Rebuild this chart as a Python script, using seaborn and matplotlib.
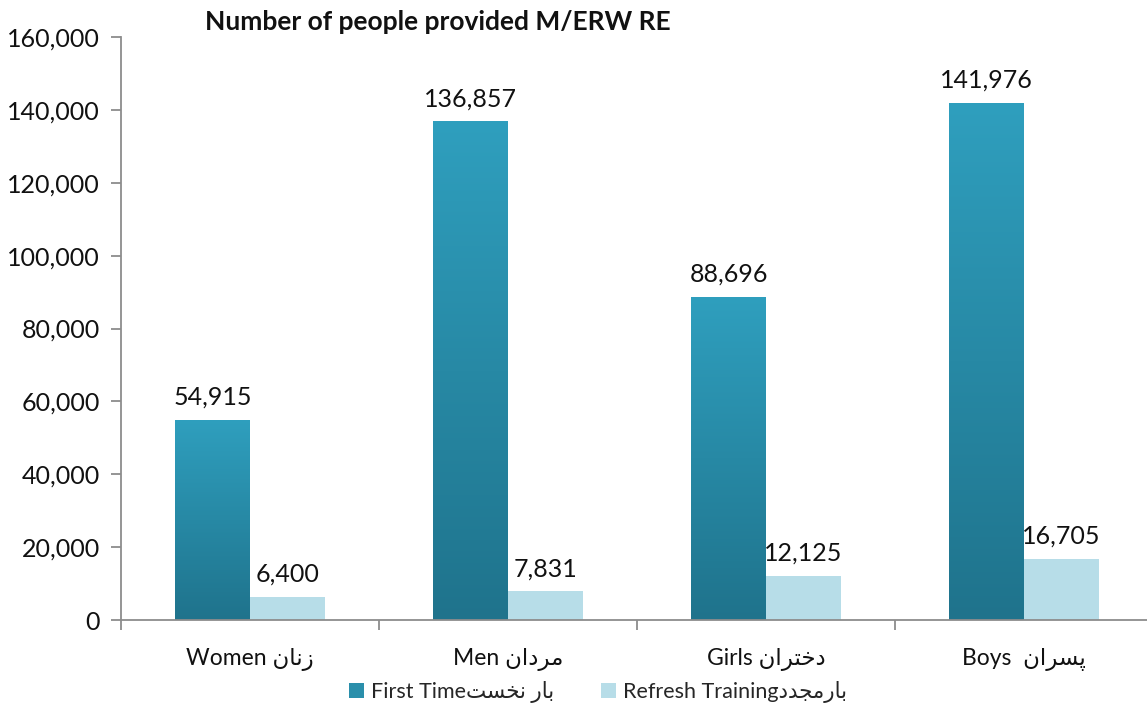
import numpy as np
import pandas as pd
import matplotlib
matplotlib.use("Agg")
import matplotlib.pyplot as plt
import seaborn as sns
from matplotlib.patches import Patch
from matplotlib.colors import LinearSegmentedColormap

# ---- data ----
categories = ["Women \ufee5\ufe8e\ufee7\ufeaf",
              "Men \ufee5\ufe8d\ufea9\ufeae\ufee3",
              "Girls \ufee5\ufe8d\ufeae\ufe98\ufea7\ufea9",
              "Boys  \ufee5\ufe8d\ufeae\ufeb4\ufb58"]
series_names = ["First Time\ufe96\ufeb4\ufea8\ufee7 \ufead\ufe8e\ufe91",
                "Refresh Training\ufea9\ufeaa\ufea0\ufee3\ufead\ufe8e\ufe91"]
first_time = [54915, 136857, 88696, 141976]
refresh = [6400, 7831, 12125, 16705]
yticks = [0, 20000, 40000, 60000, 80000, 100000, 120000, 140000, 160000]
title = "Number of people provided M/ERW RE"

df = pd.DataFrame({
    "category": categories * 2,
    "series": [series_names[0]] * 4 + [series_names[1]] * 4,
    "value": first_time + refresh,
})

sns.set_theme(style="white")
plt.rcParams["font.family"] = ["Lato", "DejaVu Sans"]

W, H = 1147, 706
fig = plt.figure(figsize=(W / 100, H / 100), dpi=100)
ax = fig.add_axes([121 / W, (H - 620) / H, 1032 / W, 583 / H])

dark_top = "#2f9fbe"
dark_bot = "#1f738c"
light = "#b7dde8"

sns.barplot(data=df, x="category", y="value", hue="series",
            palette=["#2a8fab", light], width=0.58, gap=0,
            legend=False, ax=ax, linewidth=0, saturation=1)

ax.set_xlim(-0.5, 3.5)
ax.set_ylim(0, 160000)

# gradient fill for first series
cmap = LinearSegmentedColormap.from_list("g", [dark_bot, dark_top])
grad = np.linspace(0, 1, 256).reshape(-1, 1)
for p in ax.containers[0]:
    x, y = p.get_x(), p.get_y()
    w, h = p.get_width(), p.get_height()
    im = ax.imshow(grad, extent=[x, x + w, y, y + h], origin="lower",
                   aspect="auto", cmap=cmap, zorder=p.get_zorder() + 0.1)
    im.set_clip_path(p)
ax.set_xlim(-0.5, 3.5)
ax.set_ylim(0, 160000)

# value labels
for cont in ax.containers:
    ax.bar_label(cont, labels=[f"{v:,.0f}" for v in cont.datavalues],
                 padding=8, fontsize=18, color="#111111")

# axes styling
for s in ["top", "right"]:
    ax.spines[s].set_visible(False)
for s in ["left", "bottom"]:
    ax.spines[s].set_color("#8c8c8c")
    ax.spines[s].set_linewidth(1.3)

ax.set_yticks(yticks)
ax.set_yticklabels([f"{v:,}" for v in yticks], fontsize=18, color="#111111")
ax.tick_params(axis="y", length=7, width=1.3, color="#8c8c8c", pad=8, left=True)
ax.set_xticks(range(len(categories)))
ax.set_xticklabels(categories, fontsize=16.5, color="#111111")
ax.tick_params(axis="x", length=0, pad=20)
ax.set_xticks([-0.5, 0.5, 1.5, 2.5, 3.5], minor=True)
ax.tick_params(axis="x", which="minor", length=7, width=1.3, color="#8c8c8c", bottom=True)
ax.set_xlabel("")
ax.set_ylabel("")

fig.text(205 / W, 1 - 22 / H, title, fontsize=19, fontweight="bold",
         ha="left", va="center", color="#111111")

handles = [Patch(facecolor="#2a8fab", edgecolor="none"),
           Patch(facecolor=light, edgecolor="none")]
fig.legend(handles, series_names, loc="center", ncol=2,
           bbox_to_anchor=(598 / W, 1 - 692 / H), frameon=False,
           fontsize=15.5, handlelength=0.7, handleheight=0.7,
           handletextpad=0.3, columnspacing=2.2)

fig.savefig("out.png", dpi=100)
